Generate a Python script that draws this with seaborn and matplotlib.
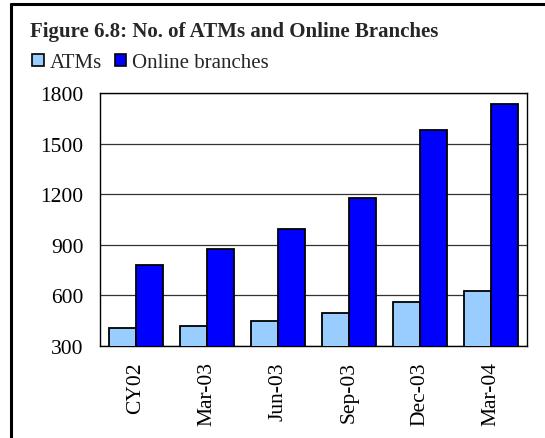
import pandas as pd
import seaborn as sns
import matplotlib.pyplot as plt
from matplotlib.lines import Line2D
from matplotlib.patches import Patch

# ====== Data ======
PERIODS = ["CY02", "Mar-03", "Jun-03", "Sep-03", "Dec-03", "Mar-04"]
ATMS = [403, 415, 445, 492, 558, 627]
ONLINE_BRANCHES = [781, 873, 995, 1174, 1578, 1736]
SERIES = ["ATMs", "Online branches"]
COLORS = ["#99CCFF", "#0000FF"]
Y_TICKS = [300, 600, 900, 1200, 1500, 1800]

df = pd.DataFrame({
    "period": PERIODS * 2,
    "value": ATMS + ONLINE_BRANCHES,
    "series": [SERIES[0]] * len(PERIODS) + [SERIES[1]] * len(PERIODS),
})

# ====== Plot ======
sns.set_theme(style="white")
plt.rcParams["font.family"] = ["Liberation Serif", "DejaVu Serif"]

fig = plt.figure(figsize=(5.45, 4.39), dpi=100)
ax = fig.add_axes([0.1835, 0.21, 0.7835, 0.576])

sns.barplot(data=df, x="period", y="value", hue="series", order=PERIODS,
            hue_order=SERIES, palette=COLORS, width=0.76, saturation=1,
            edgecolor="black", linewidth=1.3, legend=False, ax=ax, zorder=3)

ax.set_ylim(300, 1800)
ax.set_yticks(Y_TICKS)
ax.set_yticklabels([str(t) for t in Y_TICKS], fontsize=15.5)
ax.set_xticks(range(len(PERIODS)))
ax.set_xticklabels(PERIODS, rotation=90, fontsize=15.5)
ax.tick_params(axis="y", length=0, pad=12, colors="black")
ax.tick_params(axis="x", length=0, pad=11, colors="black")
ax.set_xlabel("")
ax.set_ylabel("")
ax.set_xlim(-0.5, len(PERIODS) - 0.5)
ax.yaxis.grid(True, color="#333333", linewidth=0.9, zorder=0)
for s in ax.spines.values():
    s.set_color("black")
    s.set_linewidth(1.0)

# title and legend
fig.text(0.055, 0.915, "Figure 6.8: No. of ATMs and Online Branches",
         fontsize=15, fontweight="bold", ha="left", va="baseline")
handles = [Patch(facecolor=c, edgecolor="black", linewidth=1.2) for c in COLORS]
fig.legend(handles, SERIES, loc="center left", bbox_to_anchor=(0.055, 0.855),
           ncol=2, frameon=False, fontsize=15, handlelength=0.55,
           handleheight=0.55, handletextpad=0.3, columnspacing=0.6,
           borderaxespad=0, borderpad=0.1)

# outer frame: only left and top edges visible
fig.add_artist(Line2D([0.02, 0.02], [0.0, 0.988], transform=fig.transFigure,
                      color="black", linewidth=2.2))
fig.add_artist(Line2D([0.02, 1.0], [0.988, 0.988], transform=fig.transFigure,
                      color="black", linewidth=2.2))

fig.savefig("out.png", dpi=100)
